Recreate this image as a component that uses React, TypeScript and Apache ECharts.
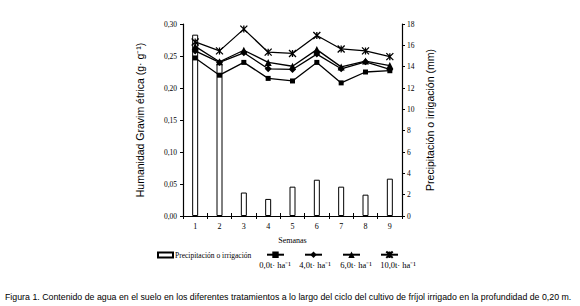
import React, { useEffect, useRef } from "react";
import * as echarts from "echarts";

const weeks = ["1", "2", "3", "4", "5", "6", "7", "8", "9"];
const rain = [17.0, 14.25, 2.2, 1.6, 2.75, 3.4, 2.75, 2.0, 3.5];
const t0 = [0.247, 0.22, 0.24, 0.215, 0.211, 0.24, 0.208, 0.225, 0.227];
const t4 = [0.258, 0.24, 0.255, 0.23, 0.229, 0.253, 0.23, 0.241, 0.229];
const t6 = [0.265, 0.241, 0.259, 0.24, 0.234, 0.26, 0.233, 0.242, 0.235];
const t10 = [0.272, 0.258, 0.292, 0.256, 0.254, 0.282, 0.261, 0.258, 0.249];
const leftTicks = [0, 0.05, 0.1, 0.15, 0.2, 0.25, 0.3];
const seriesNames = ["0,0t· ha⁻¹", "4,0t· ha⁻¹", "6,0t· ha⁻¹", "10,0t· ha⁻¹"];
const barName = "Precipitación o irrigación";
const caption =
  "Figura 1. Contenido de agua en el suelo en los diferentes tratamientos a lo largo del ciclo del cultivo de fríjol irrigado en la profundidad de 0,20 m.";

const starPath = "path://M0,0L10,10M10,0L0,10M5,0L5,10";

export default function App() {
  const ref = useRef<HTMLDivElement>(null);
  useEffect(() => {
    if (!ref.current) return;
    document.body.style.margin = "0";
    const chart = echarts.init(ref.current, null, { renderer: "svg" });
    const serif = "Liberation Serif";
    const sans = "Liberation Sans";
    const lineBase = (name: string, data: number[], symbol: string, size: number, hollow = false) => ({
      name,
      type: "line",
      data,
      xAxisIndex: 0,
      yAxisIndex: 0,
      symbol,
      symbolSize: size,
      lineStyle: { color: "#000", width: 1.3 },
      itemStyle: hollow
        ? { color: "none", borderColor: "#000", borderWidth: 1.3 }
        : { color: "#000", borderColor: "#000", borderWidth: 0 },
      z: 3,
    });
    chart.setOption({
      animation: false,
      grid: { left: 183, right: 178, top: 24, bottom: 90 },
      xAxis: [
        {
          type: "category",
          data: weeks,
          boundaryGap: true,
          name: "Semanas",
          nameLocation: "middle",
          nameGap: 20,
          nameTextStyle: { fontFamily: serif, fontSize: 8, color: "#000" },
          axisLine: { lineStyle: { color: "#000", width: 1.2 } },
          axisTick: { show: true, length: 3, lineStyle: { color: "#000" } },
          axisLabel: { fontFamily: serif, fontSize: 8, color: "#000", margin: 6 },
        },
        {
          type: "category",
          data: weeks,
          boundaryGap: true,
          position: "bottom",
          axisLine: { show: false },
          axisTick: { show: true, inside: true, length: 3, lineStyle: { color: "#000" } },
          axisLabel: { show: false },
        },
      ],
      yAxis: [
        {
          type: "value",
          min: 0,
          max: 0.3,
          interval: 0.05,
          name: "Humanidad Gravim étrica (g· g⁻¹)",
          nameLocation: "middle",
          nameGap: 38,
          nameTextStyle: { fontFamily: sans, fontSize: 10.5, color: "#000" },
          splitLine: { show: false },
          axisLine: { show: true, lineStyle: { color: "#000", width: 1.2 } },
          axisTick: { show: true, length: 3, lineStyle: { color: "#000" } },
          axisLabel: {
            fontFamily: serif,
            fontSize: 7.5,
            color: "#000",
            margin: 6,
            formatter: (v: number) => {
              const t = leftTicks.find((x) => Math.abs(x - v) < 1e-9);
              return (t !== undefined ? t : v).toFixed(2).replace(".", ",");
            },
          },
        },
        {
          type: "value",
          min: 0,
          max: 18,
          interval: 2,
          name: "Precipitación o irrigación (mm)",
          nameLocation: "middle",
          nameGap: 22,
          nameRotate: 90,
          nameTextStyle: { fontFamily: sans, fontSize: 10.5, color: "#000" },
          splitLine: { show: false },
          axisLine: { show: true, lineStyle: { color: "#000", width: 1.2 } },
          axisTick: { show: true, length: 3, lineStyle: { color: "#000" } },
          axisLabel: { fontFamily: serif, fontSize: 7.5, color: "#000", margin: 5 },
        },
      ],
      legend: [
        {
          data: [{ name: barName, icon: "rect" }],
          left: 157,
          top: 251,
          padding: 0,
          itemWidth: 15,
          itemHeight: 5,
          itemGap: 10,
          textStyle: { fontFamily: serif, fontSize: 7.5, color: "#000", padding: [0, 0, 0, -3] },
        },
        {
          data: seriesNames,
          left: 266,
          top: 249,
          padding: 0,
          itemWidth: 17,
          itemHeight: 8,
          itemGap: 19,
          formatter: () => "",
          textStyle: { fontSize: 1, color: "#000" },
        },
      ],
      graphic: [
        ...seriesNames.map((n, i) => ({
          type: "text",
          x: [275, 315, 356, 398][i],
          y: 265,
          style: {
            text: n,
            fontFamily: serif,
            fontSize: 8.5,
            fill: "#000",
            textAlign: "center",
            textVerticalAlign: "middle",
          },
        })),
        {
          type: "text",
          left: 5,
          top: 292,
          style: { text: caption, fontFamily: sans, fontSize: 8.8, fill: "#000" },
        },
      ],
      series: [
        {
          name: barName,
          type: "bar",
          data: rain,
          yAxisIndex: 1,
          barWidth: 6,
          itemStyle: { color: "#fff", borderColor: "#000", borderWidth: 1 },
          z: 2,
        },
        lineBase(seriesNames[0], t0, "rect", 5),
        lineBase(seriesNames[1], t4, "diamond", 7),
        lineBase(seriesNames[2], t6, "triangle", 7),
        lineBase(seriesNames[3], t10, starPath, 7, true),
      ],
    });
    return () => chart.dispose();
  }, []);
  return <div ref={ref} style={{ width: 580, height: 306 }} />;
}
